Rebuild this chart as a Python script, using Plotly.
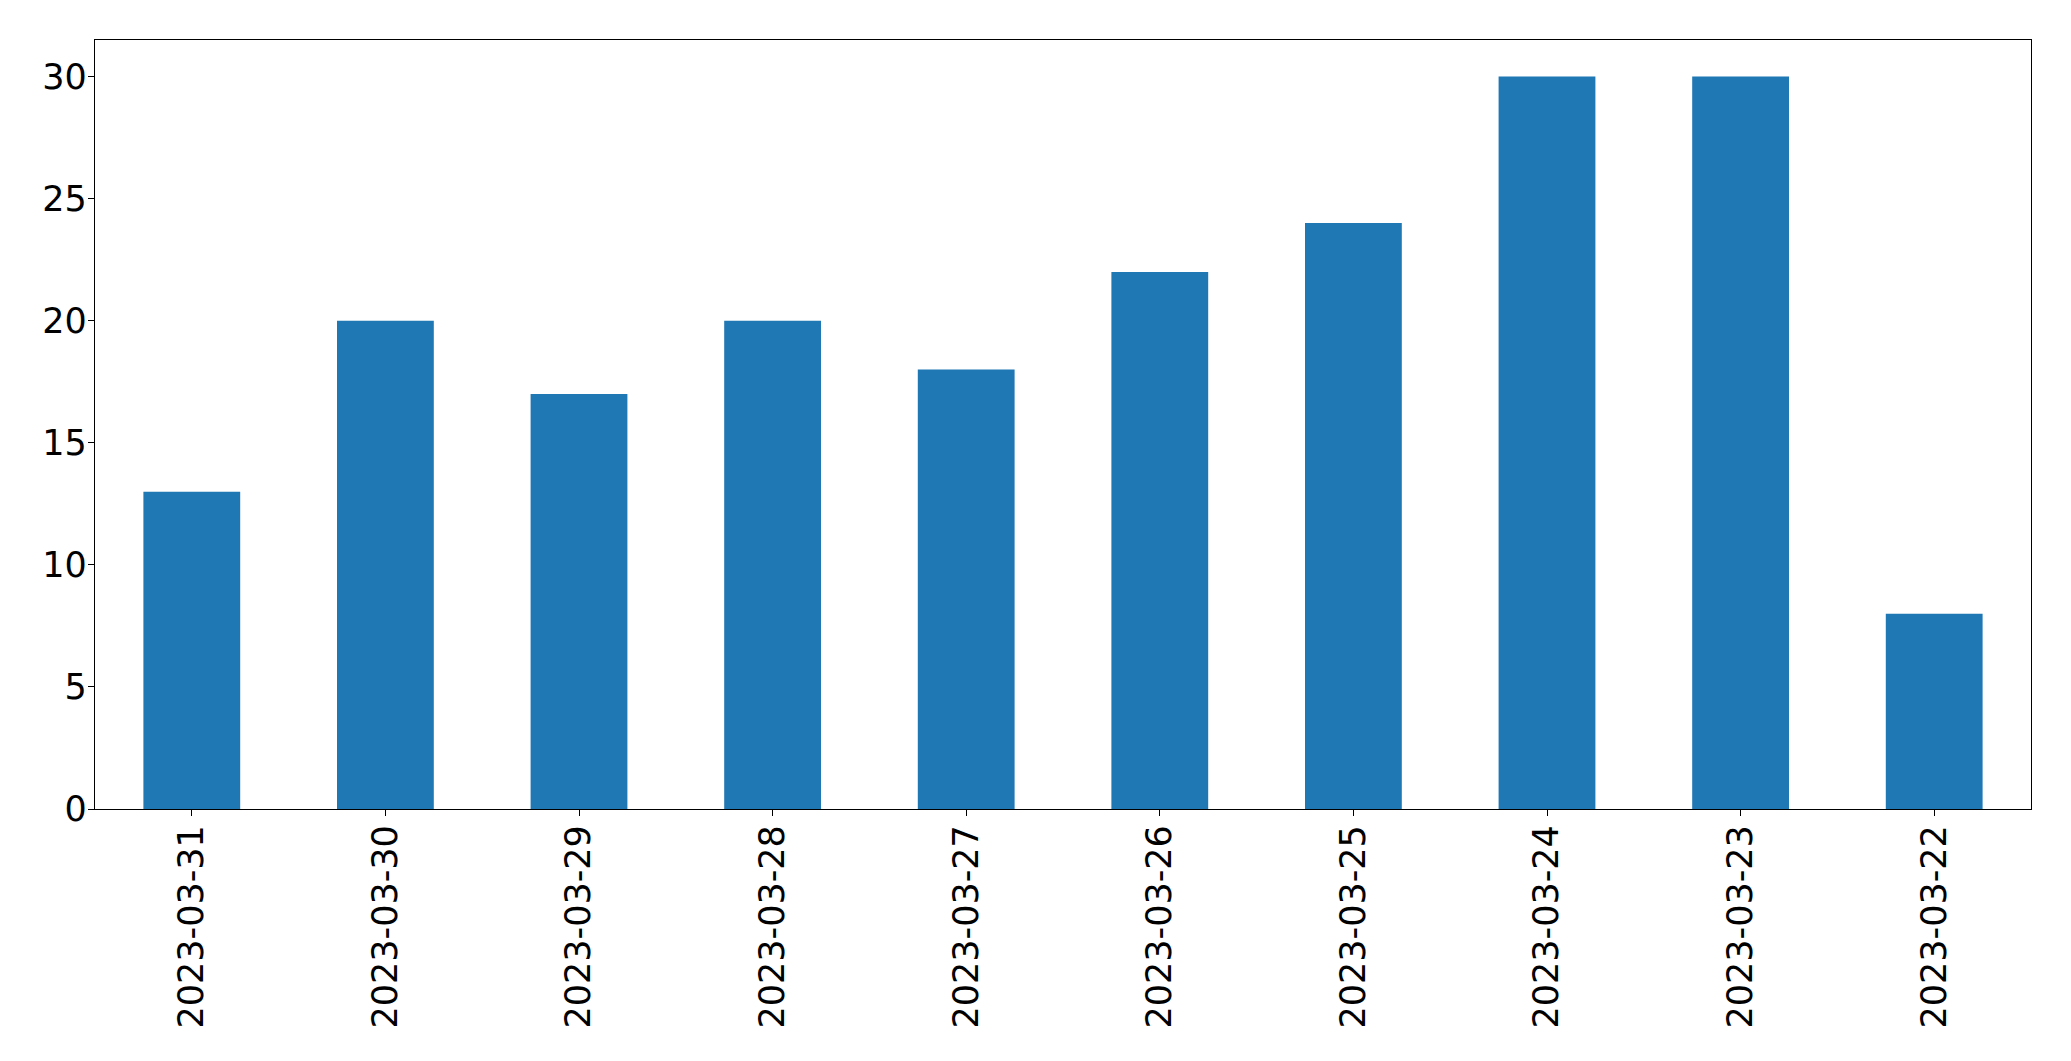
import plotly.graph_objects as go

dates = ["2023-03-31", "2023-03-30", "2023-03-29", "2023-03-28", "2023-03-27",
         "2023-03-26", "2023-03-25", "2023-03-24", "2023-03-23", "2023-03-22"]
counts = [13, 20, 17, 20, 18, 22, 24, 30, 30, 8]
y_ticks = [0, 5, 10, 15, 20, 25, 30]

fig = go.Figure(go.Bar(x=dates, y=counts, width=0.5, marker_color="#1f77b4",
                       marker_line_width=0))

fig.update_layout(
    width=2071, height=1061,
    margin=dict(l=94.5, r=39.5, t=39.5, b=252),
    paper_bgcolor="white", plot_bgcolor="white",
    font=dict(family="DejaVu Sans", size=35, color="black"),
    showlegend=False,
)
fig.update_xaxes(type="category", range=[-0.5, 9.5], tickangle=-90,
                 showline=True, mirror=True, linecolor="black", linewidth=1.3,
                 ticks="outside", ticklen=6, tickcolor="black", tickwidth=1.3,
                 showgrid=False, zeroline=False, ticklabelstandoff=-5)
fig.update_yaxes(range=[0, 31.5], tickvals=y_ticks,
                 showline=True, mirror=True, linecolor="black", linewidth=1.3,
                 ticks="outside", ticklen=6, tickcolor="black", tickwidth=1.3,
                 showgrid=False, zeroline=False, ticklabelstandoff=-6)

fig.write_html("out.html")
